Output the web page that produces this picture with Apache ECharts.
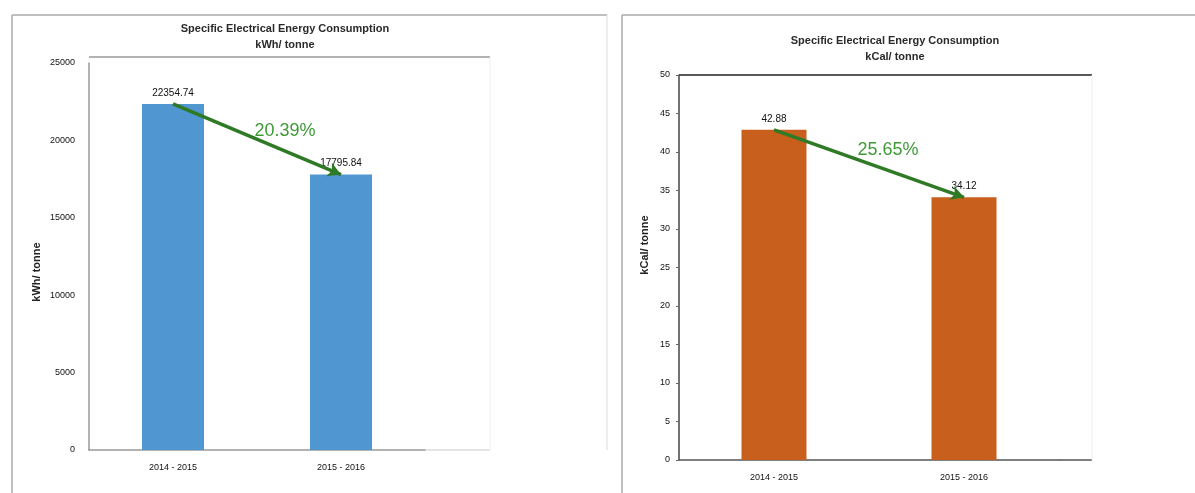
<!DOCTYPE html>
<html>
<head>
<meta charset="utf-8">
<script src="https://cdn.jsdelivr.net/npm/echarts@6/dist/echarts.min.js"></script>
<style>
html,body{margin:0;padding:0;background:#fff;}
#c{width:1195px;height:493px;}
</style>
</head>
<body>
<div id="c"></div>
<script>
var categories = ['2014 - 2015', '2015 - 2016'];
var kwhValues = [22354.74, 17795.84];
var kcalValues = [42.88, 34.12];
var kwhTicks = [0, 5000, 10000, 15000, 20000, 25000];
var kcalTicks = [0, 5, 10, 15, 20, 25, 30, 35, 40, 45, 50];
var changeLabels = ['20.39%', '25.65%'];
var titles = ['Specific Electrical Energy Consumption', 'Specific Electrical Energy Consumption'];
var subtitles = ['kWh/ tonne', 'kCal/ tonne'];
var axisNames = ['kWh/ tonne', 'kCal/ tonne'];

var FONT = 'Liberation Sans';
var chart = echarts.init(document.getElementById('c'));

function arrowLine(vals) {
  return {
    silent: true,
    symbol: ['none', 'arrow'],
    symbolSize: [11, 13],
    label: {show: false},
    lineStyle: {color: '#2f7a24', width: 3.5, type: 'solid'},
    data: [[{coord: [categories[0], vals[0]]}, {coord: [categories[1], vals[1]]}]]
  };
}

var line = function(x1, y1, x2, y2, color, w) {
  return {type: 'line', silent: true, shape: {x1: x1, y1: y1, x2: x2, y2: y2},
          style: {stroke: color, lineWidth: w || 1}};
};
var plain = function(v){ return String(v); };

chart.setOption({
  animation: false,
  title: [
    {text: titles[0], subtext: subtitles[0], left: 280, top: 18, textAlign: 'center', itemGap: 5,
     textStyle: {fontFamily: FONT, fontSize: 11, fontWeight: 'bold', color: '#2a2a2a'},
     subtextStyle: {fontFamily: FONT, fontSize: 11, fontWeight: 'bold', color: '#2a2a2a'}},
    {text: titles[1], subtext: subtitles[1], left: 890, top: 30, textAlign: 'center', itemGap: 5,
     textStyle: {fontFamily: FONT, fontSize: 11, fontWeight: 'bold', color: '#2a2a2a'},
     subtextStyle: {fontFamily: FONT, fontSize: 11, fontWeight: 'bold', color: '#2a2a2a'}}
  ],
  grid: [
    {left: 89, top: 63, width: 336, height: 387},
    {left: 679, top: 75, width: 380, height: 385}
  ],
  xAxis: [
    {type: 'category', gridIndex: 0, data: categories,
     axisLine: {lineStyle: {color: '#999', width: 1.5}}, axisTick: {show: false},
     axisLabel: {fontFamily: FONT, fontSize: 9, color: '#111', margin: 13}},
    {type: 'category', gridIndex: 1, data: categories,
     axisLine: {lineStyle: {color: '#555', width: 1.5}}, axisTick: {show: false},
     axisLabel: {fontFamily: FONT, fontSize: 9, color: '#111', margin: 13}}
  ],
  yAxis: [
    {type: 'value', gridIndex: 0, min: kwhTicks[0], max: kwhTicks[kwhTicks.length - 1], interval: kwhTicks[1] - kwhTicks[0],
     axisLine: {show: true, lineStyle: {color: '#999', width: 1.5}}, axisTick: {show: false},
     splitLine: {show: false},
     axisLabel: {fontFamily: FONT, fontSize: 9, color: '#111', margin: 14, formatter: plain}},
    {type: 'value', gridIndex: 1, min: kcalTicks[0], max: kcalTicks[kcalTicks.length - 1], interval: kcalTicks[1] - kcalTicks[0],
     axisLine: {show: true, lineStyle: {color: '#444', width: 1.5}},
     axisTick: {show: true, length: 3, lineStyle: {color: '#666'}},
     splitLine: {show: false},
     axisLabel: {fontFamily: FONT, fontSize: 9, color: '#111', margin: 9, formatter: plain}}
  ],
  series: [
    {type: 'bar', xAxisIndex: 0, yAxisIndex: 0, data: kwhValues, barWidth: 62,
     itemStyle: {color: '#5096d1'},
     label: {show: true, position: 'top', distance: 6, fontFamily: FONT, fontSize: 10, color: '#111',
             formatter: function(p){ return p.value.toFixed(2); }},
     markLine: arrowLine(kwhValues)},
    {type: 'bar', xAxisIndex: 1, yAxisIndex: 1, data: kcalValues, barWidth: 65,
     itemStyle: {color: '#c85f1c'},
     label: {show: true, position: 'top', distance: 6, fontFamily: FONT, fontSize: 10, color: '#111',
             formatter: function(p){ return p.value.toFixed(2); }},
     markLine: arrowLine(kcalValues)}
  ],
  graphic: [
    line(12, 15, 607, 15, '#aaa', 1.5),
    line(12, 15, 12, 493, '#aaa', 1.5),
    line(607, 15, 607, 450, '#ddd', 1),
    line(622, 15, 1195, 15, '#aaa', 1.5),
    line(622, 15, 622, 493, '#aaa', 1.5),
    line(89, 57, 490, 57, '#999', 1.5),
    line(425, 450, 490, 450, '#ddd', 1.5),
    line(490, 57, 490, 450, '#eee', 1),
    line(679, 75, 1092, 75, '#222', 1.5),
    line(1059, 460, 1092, 460, '#555', 1.5),
    line(1092, 75, 1092, 460, '#eee', 1),
    {type: 'text', silent: true, x: 285, y: 131,
     style: {text: changeLabels[0], fontFamily: FONT, fontSize: 18, fill: '#3e9a35', align: 'center', verticalAlign: 'middle'}},
    {type: 'text', silent: true, x: 888, y: 150,
     style: {text: changeLabels[1], fontFamily: FONT, fontSize: 18, fill: '#3e9a35', align: 'center', verticalAlign: 'middle'}},
    {type: 'text', silent: true, x: 37, y: 272, rotation: Math.PI / 2,
     style: {text: axisNames[0], fontFamily: FONT, fontSize: 11, fontWeight: 'bold', fill: '#222', align: 'center', verticalAlign: 'middle'}},
    {type: 'text', silent: true, x: 645, y: 245, rotation: Math.PI / 2,
     style: {text: axisNames[1], fontFamily: FONT, fontSize: 11, fontWeight: 'bold', fill: '#222', align: 'center', verticalAlign: 'middle'}}
  ]
});
</script>
</body>
</html>
